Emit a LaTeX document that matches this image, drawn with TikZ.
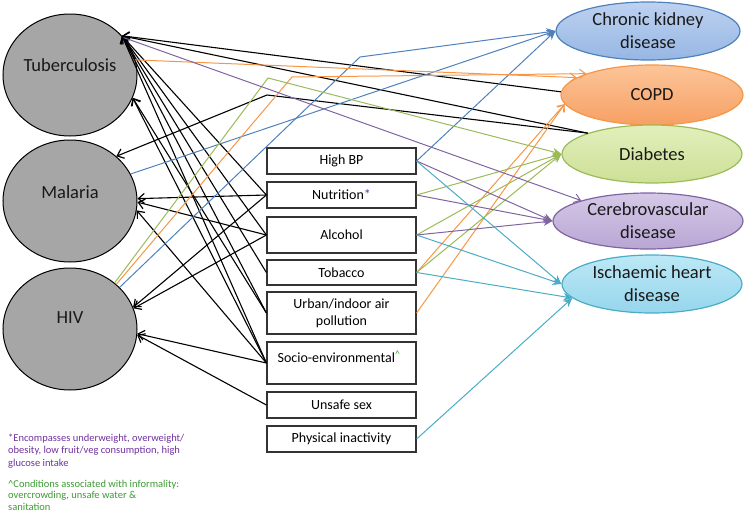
\documentclass[tikz,border=0pt]{standalone}
\usepackage{fontspec}
\setmainfont{Carlito}
\usetikzlibrary{arrows.meta,shapes.geometric}
\definecolor{cBlue}{HTML}{4F81BD}
\definecolor{cOrange}{HTML}{F79646}
\definecolor{cGreen}{HTML}{9BBB59}
\definecolor{cPurple}{HTML}{8064A2}
\definecolor{cCyan}{HTML}{4BACC6}
\definecolor{circFill}{HTML}{A6A6A6}
\definecolor{noteP}{HTML}{7030A0}
\definecolor{noteG}{HTML}{3C9A34}
\definecolor{ckdT}{RGB}{190,209,240}
\definecolor{ckdB}{RGB}{150,183,228}
\definecolor{copdT}{RGB}{252,196,152}
\definecolor{copdB}{RGB}{247,160,100}
\definecolor{diabT}{RGB}{226,239,188}
\definecolor{diabB}{RGB}{205,224,150}
\definecolor{cerT}{RGB}{212,200,231}
\definecolor{cerB}{RGB}{185,166,212}
\definecolor{ischT}{RGB}{188,232,246}
\definecolor{ischB}{RGB}{150,214,236}
\begin{document}
\begin{tikzpicture}[x=1pt,y=-1pt,
  inf/.style={ellipse, draw=black, line width=1pt, fill=circFill, minimum width=134pt, minimum height=122pt, inner sep=0pt},
  big/.style={font=\fontsize{18.5}{22}\selectfont, text=black!90, inner sep=0pt},
  ncd/.style={ellipse, line width=1.2pt, inner sep=0pt, align=center, text=black!90, font=\fontsize{18.5}{23}\selectfont},
  rbox/.style={rectangle, draw=black!80, line width=1.2pt, fill=white, minimum width=149pt, inner sep=0pt, font=\fontsize{14}{17}\selectfont, align=center},
  blk/.style={draw=black, line width=1.1pt, -{Straight Barb[length=6pt,width=10pt,line width=1.2pt]}},
  colS/.style={draw=#1, line width=1pt, -{Stealth[length=9pt,width=8pt]}},
  colB/.style={draw=#1, line width=1pt, -{Straight Barb[length=6pt,width=9pt,line width=1pt]}},
  note/.style={anchor=north west, align=left, inner sep=0pt}
]
\useasboundingbox (0,0) rectangle (750,514);

% infectious diseases
\node[inf] (tb) at (70,75) {};
\node[inf] (mal) at (70,201) {};
\node[inf] (hiv) at (70,329) {};
\node[big] (tbl) at (70,65) {Tuberculosis};
\node[big] (mall) at (70,192) {Malaria};
\node[big] (hivl) at (70,318) {HIV};

% NCDs
\node[ncd, draw=cBlue, top color=ckdT, bottom color=ckdB, minimum width=184pt, minimum height=58pt] (ckd) at (648,31) {Chronic kidney\\disease};
\node[ncd, draw=cOrange, top color=copdT, bottom color=copdB, minimum width=182pt, minimum height=60pt] (copd) at (652,95) {COPD};
\node[ncd, draw=cGreen, top color=diabT, bottom color=diabB, minimum width=180pt, minimum height=58pt] (diab) at (652,154) {Diabetes};
\node[ncd, draw=cPurple, top color=cerT, bottom color=cerB, minimum width=190pt, minimum height=56pt] (cer) at (648,221) {Cerebrovascular\\disease};
\node[ncd, draw=cCyan, top color=ischT, bottom color=ischB, minimum width=180pt, minimum height=58pt] (isch) at (652,284) {Ischaemic heart\\disease};

% risk factors
\node[rbox, minimum height=26pt] (hbp) at (341.5,161) {High BP};
\node[rbox, minimum height=26pt] (nut) at (341.5,195) {Nutrition{\color{noteP}*}};
\node[rbox, minimum height=36pt] (alc) at (341.5,235) {Alcohol};
\node[rbox, minimum height=25pt] (tob) at (341.5,272.5) {Tobacco};
\node[rbox, minimum height=42pt] (urb) at (341.5,313) {Urban/indoor air\\pollution};
\node[rbox, minimum height=42pt] (soc) at (341.5,363) {};
\node[font=\fontsize{14}{17}\selectfont, inner sep=0pt] (soct) at (339,357) {Socio-environmental\textsuperscript{\color{noteG}\textasciicircum}};
\node[rbox, minimum height=26pt] (uns) at (341.5,405) {Unsafe sex};
\node[rbox, minimum height=26pt] (phy) at (341.5,439) {Physical inactivity};

% bend points
\coordinate (kb) at (267,95);
\coordinate (cb) at (360,57);
\coordinate (co) at (292,77);
\coordinate (cg) at (268,78);

% black connectors to infectious diseases
\draw[blk] (copd.178) -- (tb.37);
\draw[blk] (diab.162) -- (tb.37);
\draw[blk] (diab.162) -- (kb) -- (mal.44);
\draw[blk] (nut.west) -- (tb.37);
\draw[blk] (alc.west) -- (tb.37);
\draw[blk] (tob.west) -- (tb.37);
\draw[blk] (urb.west) -- (tb.37);
\draw[blk] (soc.west) -- (tb.37);
\draw[blk] (soc.west) -- (tb.-20);
\draw[blk] (urb.west) -- (tb.-20);
\draw[blk] (nut.west) -- (mal.2);
\draw[blk] (alc.west) -- (mal.-1);
\draw[blk] (soc.west) -- (mal.-8);
\draw[blk] (nut.west) -- (hiv.19);
\draw[blk] (alc.west) -- (hiv.18);
\draw[blk] (soc.west) -- (hiv.-4);
\draw[blk] (uns.west) -- (hiv.-5);

% chronic kidney disease (blue)
\draw[colS=cBlue] (hiv.40) -- (cb) -- (ckd.west);
\draw[colS=cBlue] (mal.24) -- (ckd.west);
\draw[colS=cBlue] (hbp.east) -- (ckd.west);

% COPD (orange)
\draw[colB=cOrange] (tb.13) -- (copd.167);
\draw[colB=cOrange] (hiv.44) -- (co) -- (copd.162);
\draw[colB=cOrange] (tob.east) -- (copd.186);
\draw[colB=cOrange] (urb.east) -- (copd.186);

% Diabetes (green)
\draw[colS=cGreen] (hiv.46) -- (cg) -- (diab.west);
\draw[colS=cGreen] (nut.east) -- (diab.west);
\draw[colS=cGreen] (alc.east) -- (diab.west);
\draw[colS=cGreen] (tob.east) -- (diab.west);

% Cerebrovascular (purple)
\draw[colB=cPurple] (tb.35) -- (cer.163);
\draw[colS=cPurple] (hbp.east) -- (cer.west);
\draw[colS=cPurple] (nut.east) -- (cer.west);
\draw[colS=cPurple] (alc.east) -- (cer.west);

% Ischaemic heart disease (cyan)
\draw[colS=cCyan] (hbp.east) -- (isch.west);
\draw[colS=cCyan] (alc.east) -- (isch.west);
\draw[colS=cCyan] (tob.east) -- (isch.190);
\draw[colS=cCyan] (phy.east) -- (isch.190);

% footnotes
\node[note, text=noteP, font=\fontsize{10.5}{12.3}\selectfont] (fnA) at (8,434) {*Encompasses underweight, overweight/\\obesity, low fruit/veg consumption, high\\glucose intake};
\node[note, text=noteG, font=\fontsize{10.5}{11.5}\selectfont] (fnB) at (8,480) {\textasciicircum Conditions associated with informality:\\overcrowding, unsafe water \&\\sanitation};
\end{tikzpicture}
\end{document}
